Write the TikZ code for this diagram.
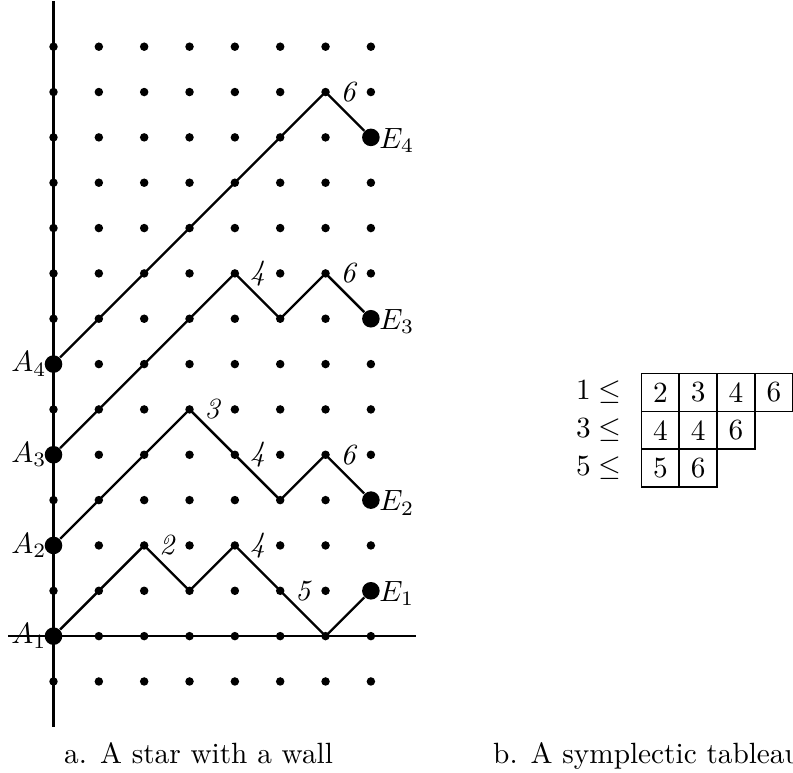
\documentclass[tikz,border=0pt]{standalone}
\usepackage{amsmath,amssymb}
\usepackage{tikz}
\usetikzlibrary{positioning}

\begin{document}
\begin{tikzpicture}[x=15.48pt,y=15.48pt,
    endpt/.style={circle,fill,inner sep=0pt,minimum size=6pt},
    lbl/.style={inner sep=0pt},
    elbl/.style={inner sep=0pt,yshift=-1pt},
    stepnum/.style={inner sep=0pt,font=\itshape},
    cell/.style={draw,semithick,minimum size=12.9pt,inner sep=0pt,outer sep=0pt}]
    \useasboundingbox (-1.18,-3) rectangle (16.31,14.03);
    \foreach \i in {0,...,7}
      \foreach \j in {-1,...,13}
        \fill (\i,\j) circle (1.45pt);
    \draw[thick] (-1,0) -- (8,0);
    \draw[thick] (0,-2) -- (0,14);
    \node[endpt] (A1) at (0,0) {};
    \node[endpt] (A2) at (0,2) {};
    \node[endpt] (A3) at (0,4) {};
    \node[endpt] (A4) at (0,6) {};
    \node[endpt] (E1) at (7,1) {};
    \node[endpt] (E2) at (7,3) {};
    \node[endpt] (E3) at (7,7) {};
    \node[endpt] (E4) at (7,11) {};
    \node[lbl,left=-1pt of A1] (a1) {$A_1$};
    \node[lbl,left=-1pt of A2] (a2) {$A_2$};
    \node[lbl,left=-1pt of A3] (a3) {$A_3$};
    \node[lbl,left=-1pt of A4] (a4) {$A_4$};
    \node[elbl,right=-0.5pt of E1] (e1) {$E_1$};
    \node[elbl,right=-0.5pt of E2] (e2) {$E_2$};
    \node[elbl,right=-0.5pt of E3] (e3) {$E_3$};
    \node[elbl,right=-0.5pt of E4] (e4) {$E_4$};
    \draw[thick] (A1) -- (2,2) -- (3,1) -- (4,2) -- (6,0) -- (E1);
    \draw[thick] (A2) -- (3,5) -- (5,3) -- (6,4) -- (E2);
    \draw[thick] (A3) -- (4,8) -- (5,7) -- (6,8) -- (E3);
    \draw[thick] (A4) -- (6,12) -- (E4);
    \node[stepnum] (s1a) at (2.5,2) {2};
    \node[stepnum] (s1b) at (4.5,2) {4};
    \node[stepnum] (s1c) at (5.5,1) {5};
    \node[stepnum] (s2a) at (3.5,5) {3};
    \node[stepnum] (s2b) at (4.5,4) {4};
    \node[stepnum] (s2c) at (6.5,4) {6};
    \node[stepnum] (s3a) at (4.5,8) {4};
    \node[stepnum] (s3b) at (6.5,8) {6};
    \node[stepnum] (s4a) at (6.5,12) {6};
    \begin{scope}[shift={(12.97,5.79)}]
      \node[cell] (t11) at (6.45pt,-6.45pt) {2};
      \node[cell,right=0pt of t11] (t12) {3};
      \node[cell,right=0pt of t12] (t13) {4};
      \node[cell,right=0pt of t13] (t14) {6};
      \node[cell,below=0pt of t11] (t21) {4};
      \node[cell,right=0pt of t21] (t22) {4};
      \node[cell,right=0pt of t22] (t23) {6};
      \node[cell,below=0pt of t21] (t31) {5};
      \node[cell,right=0pt of t31] (t32) {6};
      \node[lbl,left=6.6pt of t11] (r1) {$1\leq$};
      \node[lbl,left=6.6pt of t21] (r2) {$3\leq$};
      \node[lbl,left=6.6pt of t31] (r3) {$5\leq$};
    \end{scope}
    \node[anchor=base] (capa) at (3.2,-2.8) {a. A star with a wall};
    \node[anchor=base west] (capb) at (9.47,-2.8) {b. A symplectic tableau};
\end{tikzpicture}
\end{document}
